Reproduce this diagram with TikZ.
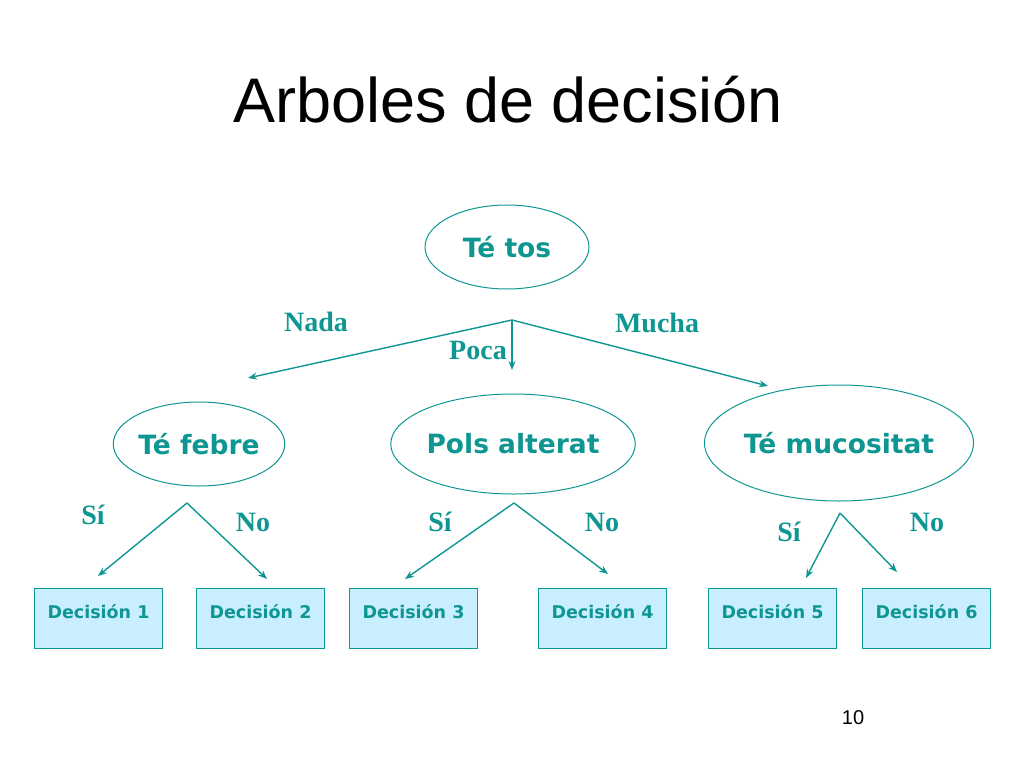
\documentclass[tikz,border=0pt]{standalone}
\usepackage{fontspec}
\setmainfont{Liberation Serif}
\newfontfamily\arialf{Liberation Sans}
\newfontfamily\verd{DejaVu Sans}
\usetikzlibrary{arrows.meta,shapes.geometric}
\definecolor{teal1}{RGB}{14,150,146}
\definecolor{boxf}{RGB}{200,238,255}
\begin{document}
\begin{tikzpicture}[x=1pt,y=-1pt,
  ell/.style={draw=teal1,line width=1pt,ellipse,inner sep=0pt,text=teal1,font=\verd\bfseries\fontsize{26.5}{30}\selectfont},
  dbox/.style={draw=teal1,line width=1pt,fill=boxf,minimum width=128pt,minimum height=60pt,inner sep=0pt},
  dtxt/.style={text=teal1,font=\verd\bfseries\fontsize{17.5}{20}\selectfont},
  lbl/.style={text=teal1,font=\bfseries\fontsize{28}{32}\selectfont},
  arr/.style={draw=teal1,line width=1.4pt,-{Stealth[length=9pt,width=7pt]}}]
\useasboundingbox (0,0) rectangle (1024,768);
\node[font=\arialf\fontsize{63}{70}\selectfont] (title) at (508,100) {Arboles de decisión};
\node[ell,minimum width=164pt,minimum height=84pt] (tos) at (507,247) {Té tos};
\node[ell,minimum width=164pt,minimum height=84pt] (feb) at (199,444) {Té febre};
\node[ell,minimum width=190pt,minimum height=100pt] (pols) at (513,444) {Pols alterat};
\node[ell,minimum width=186pt,minimum height=116pt] (muc) at (839,443) {Té mucositat};
\coordinate (b0) at (512,320);
\coordinate (t1) at (248,378); \coordinate (t2) at (512,370); \coordinate (t3) at (768,386);
\draw[arr] (b0) -- (t1); \draw[arr] (b0) -- (t2); \draw[arr] (b0) -- (t3);
\node[lbl] (nada) at (316,322) {Nada};
\node[lbl] (poca) at (478,350) {Poca};
\node[lbl] (mucha) at (657,323) {Mucha};
\foreach \n/\x in {1/34,2/196,3/349,4/538,5/708,6/862}{
  \node[dbox,anchor=north west] (d\n) at (\x,588) {};
  \node[dtxt] (dt\n) at ([yshift=-24pt]d\n.north) {Decisión \n};
}
\coordinate (a1) at (187,503); \coordinate (a2) at (514,503); \coordinate (a3) at (840,513);
\coordinate (e1) at (98,576); \coordinate (e2) at (267,579);
\coordinate (e3) at (405,579); \coordinate (e4) at (608,574);
\coordinate (e5) at (806,578); \coordinate (e6) at (897,572);
\draw[arr] (a1) -- (e1); \draw[arr] (a1) -- (e2);
\draw[arr] (a2) -- (e3); \draw[arr] (a2) -- (e4);
\draw[arr] (a3) -- (e5); \draw[arr] (a3) -- (e6);
\node[lbl] (s1) at (93,515) {Sí};
\node[lbl] (n1) at (253,522) {No};
\node[lbl] (s2) at (440,522) {Sí};
\node[lbl] (n2) at (602,522) {No};
\node[lbl] (s3) at (789,532) {Sí};
\node[lbl] (n3) at (927,522) {No};
\node[font=\arialf\fontsize{20}{24}\selectfont] (pg) at (853,718) {10};
\end{tikzpicture}
\end{document}
